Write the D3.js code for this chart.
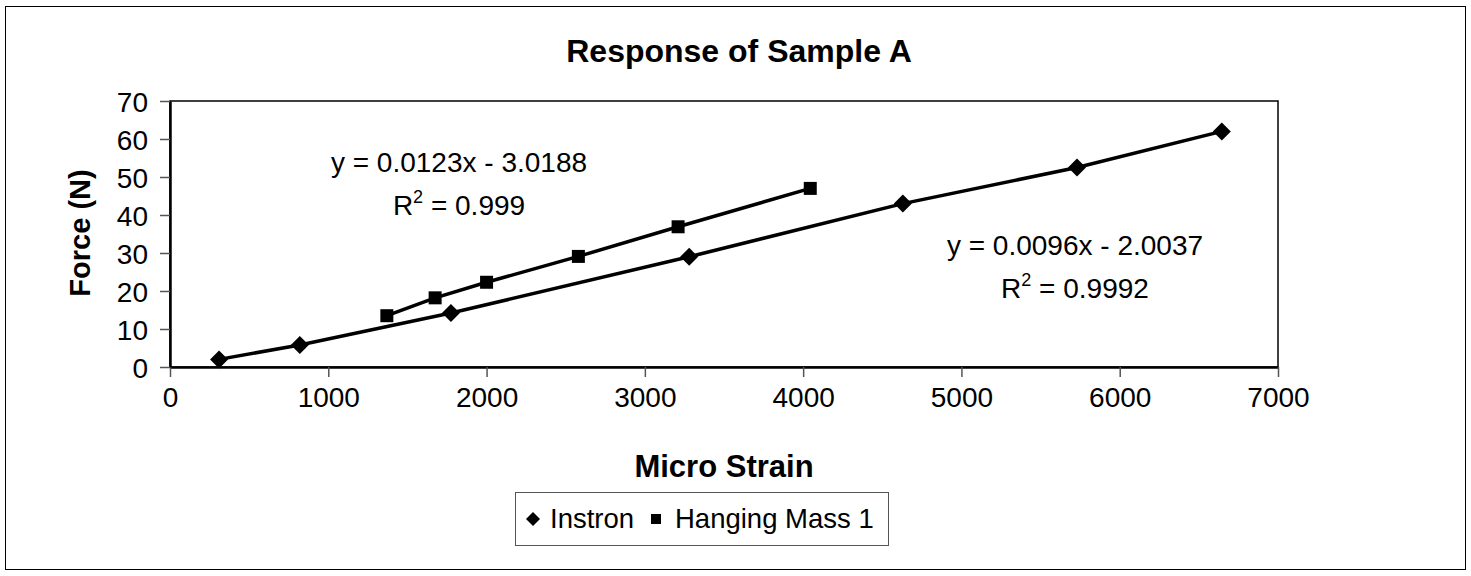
<!DOCTYPE html>
<html>
<head>
<meta charset="utf-8">
<script src="https://cdn.jsdelivr.net/npm/d3@7"></script>
<style>
  body { margin: 0; background: #fff; }
  svg { display: block; font-family: "Liberation Sans", Arial, sans-serif; }
</style>
</head>
<body>
<svg width="1471" height="576"></svg>
<script>
// data
var instronX = [310, 820, 1775, 3280, 4630, 5730, 6645];
var instronY = [2, 5.8, 14.2, 29, 43, 52.5, 62];
var hangingX = [1370, 1675, 2000, 2580, 3210, 4045];
var hangingY = [13.5, 18.2, 22.3, 29.1, 36.9, 47];
var xTicks = [0, 1000, 2000, 3000, 4000, 5000, 6000, 7000];
var yTicks = [0, 10, 20, 30, 40, 50, 60, 70];
var seriesNames = ["Instron", "Hanging Mass 1"];

var svg = d3.select("svg");
const width = +svg.attr("width");
const height = +svg.attr("height");

var plotLeft = 170, plotRight = 1278, plotTop = 101, plotBottom = 367;

var x = d3.scaleLinear().domain([0, 7000]).range([plotLeft, plotRight]);
var y = d3.scaleLinear().domain([0, 70]).range([plotBottom, plotTop]);

// outer chart border
svg.append("rect")
  .attr("x", 5.5).attr("y", 6.5)
  .attr("width", width - 11).attr("height", height - 13)
  .attr("fill", "#fff").attr("stroke", "#000").attr("stroke-width", 1);

// plot area frame
svg.append("rect")
  .attr("x", plotLeft).attr("y", plotTop)
  .attr("width", plotRight - plotLeft).attr("height", plotBottom - plotTop)
  .attr("fill", "none").attr("stroke", "#000").attr("stroke-width", 1.5);

// axes
var xAxis = svg.append("g")
  .attr("transform", "translate(0," + plotBottom + ")")
  .call(d3.axisBottom(x).tickValues(xTicks).tickSize(10).tickSizeOuter(0).tickPadding(10).tickFormat(d3.format("d")));
var yAxis = svg.append("g")
  .attr("transform", "translate(" + plotLeft + ",0)")
  .call(d3.axisLeft(y).tickValues(yTicks).tickSize(10).tickSizeOuter(0).tickPadding(12));

[xAxis, yAxis].forEach(function (g) {
  g.select(".domain").attr("stroke", "#000").attr("stroke-width", 2.5);
  g.selectAll(".tick line").attr("stroke", "#555").attr("stroke-width", 1.5);
  g.selectAll(".tick text")
    .attr("fill", "#000")
    .style("font-family", "'Liberation Sans', Arial, sans-serif")
    .style("font-size", "28px");
});
yAxis.selectAll(".tick text").attr("dy", "0.36em");

// series lines
var line = d3.line().x(function (d) { return x(d[0]); }).y(function (d) { return y(d[1]); });
var instron = instronX.map(function (v, i) { return [v, instronY[i]]; });
var hanging = hangingX.map(function (v, i) { return [v, hangingY[i]]; });

svg.append("path").datum(instron).attr("d", line)
  .attr("fill", "none").attr("stroke", "#000").attr("stroke-width", 3.5);
svg.append("path").datum(hanging).attr("d", line)
  .attr("fill", "none").attr("stroke", "#000").attr("stroke-width", 3.5);

var diamond = "M0,-9L9,0L0,9L-9,0Z";
var square = "M-6.5,-6.5L6.5,-6.5L6.5,6.5L-6.5,6.5Z";

svg.append("g").selectAll("path").data(instron).join("path")
  .attr("d", diamond)
  .attr("transform", function (d) { return "translate(" + x(d[0]) + "," + y(d[1]) + ")"; })
  .attr("fill", "#000");
svg.append("g").selectAll("path").data(hanging).join("path")
  .attr("d", square)
  .attr("transform", function (d) { return "translate(" + x(d[0]) + "," + y(d[1]) + ")"; })
  .attr("fill", "#000");

// titles
svg.append("text")
  .attr("x", 739).attr("y", 62)
  .attr("text-anchor", "middle")
  .style("font-size", "32px").style("font-weight", "bold")
  .text("Response of Sample A");

svg.append("text")
  .attr("x", 724).attr("y", 477)
  .attr("text-anchor", "middle")
  .style("font-size", "31px").style("font-weight", "bold")
  .text("Micro Strain");

svg.append("text")
  .attr("transform", "translate(90,233) rotate(-90)")
  .attr("text-anchor", "middle")
  .style("font-size", "29px").style("font-weight", "bold")
  .text("Force (N)");

// trendline equations
function equation(cx, by, eq, r2) {
  svg.append("text")
    .attr("x", cx).attr("y", by)
    .attr("text-anchor", "middle")
    .style("font-size", "28px")
    .text(eq);
  var t = svg.append("text")
    .attr("x", cx).attr("y", by + 43)
    .attr("text-anchor", "middle")
    .style("font-size", "28px");
  t.append("tspan").text("R");
  t.append("tspan").attr("dy", -12).style("font-size", "18px").text("2");
  t.append("tspan").attr("dy", 12).text(" = " + r2);
}
equation(459, 172, "y = 0.0123x - 3.0188", "0.999");
equation(1075, 255, "y = 0.0096x - 2.0037", "0.9992");

// legend
var legend = svg.append("g");
legend.append("rect")
  .attr("x", 515.5).attr("y", 492.5)
  .attr("width", 373).attr("height", 53)
  .attr("fill", "#fff").attr("stroke", "#555").attr("stroke-width", 1);
legend.append("path").attr("d", "M0,-7L7,0L0,7L-7,0Z")
  .attr("transform", "translate(533,519)").attr("fill", "#000");
legend.append("text").attr("x", 550).attr("y", 528)
  .style("font-size", "27.5px").text(seriesNames[0]);
legend.append("path").attr("d", "M-5,-5L5,-5L5,5L-5,5Z")
  .attr("transform", "translate(656,519)").attr("fill", "#000");
legend.append("text").attr("x", 675).attr("y", 528)
  .style("font-size", "27.5px").text(seriesNames[1]);
</script>
</body>
</html>
